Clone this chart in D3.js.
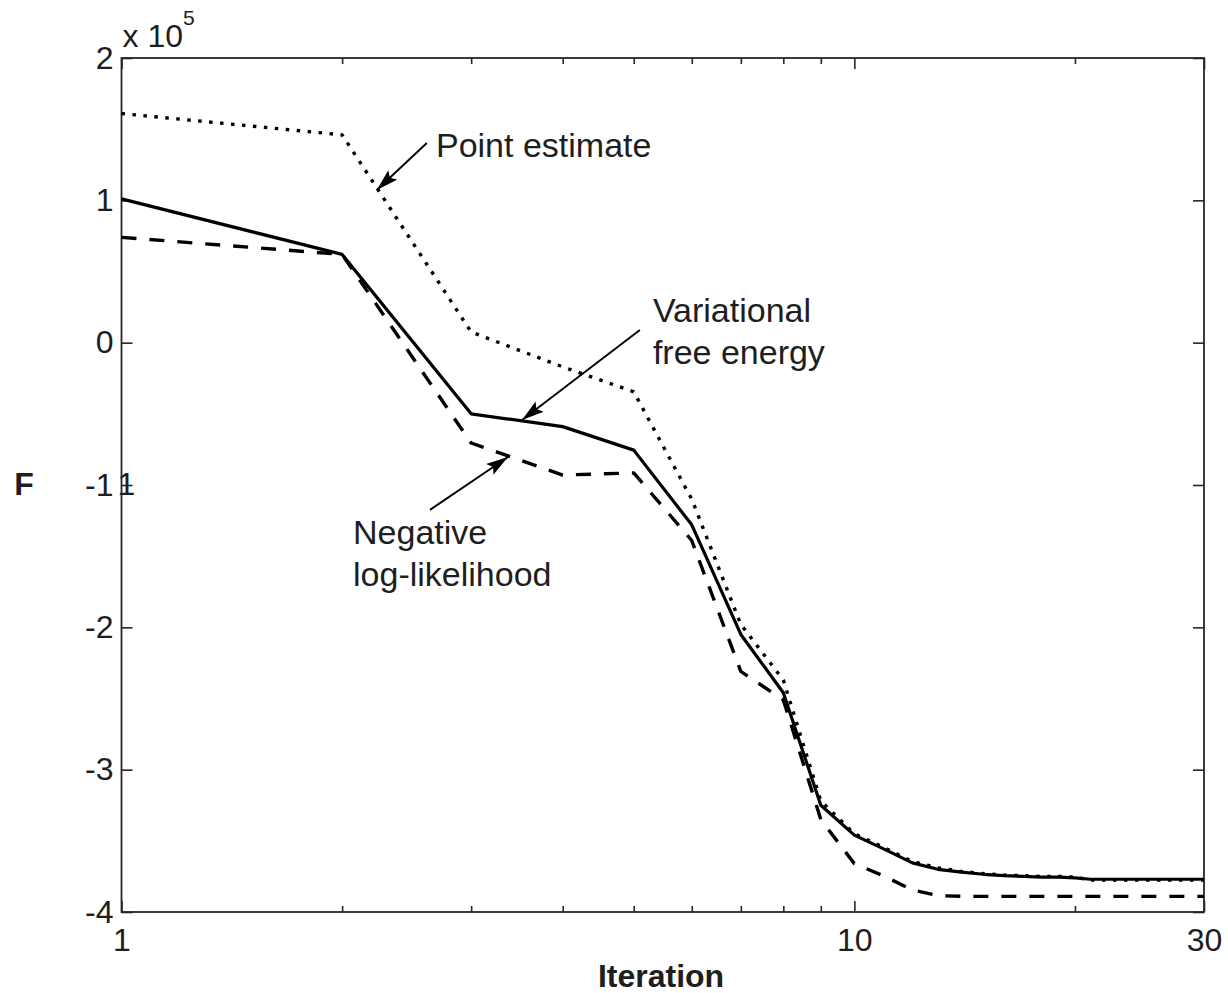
<!DOCTYPE html>
<html>
<head>
<meta charset="utf-8">
<script src="https://cdn.jsdelivr.net/npm/d3@7"></script>
<style>
  html, body { margin: 0; padding: 0; background: #fff; }
  svg { display: block; }
  text { font-family: "Liberation Sans", Arial, Helvetica, sans-serif; fill: #1e1e1e; }
</style>
</head>
<body>
<svg id="chart" width="1228" height="993"></svg>
<script>
// Iteration numbers (log-scaled x axis)
const iterations = [1, 2, 3, 4, 5, 6, 7, 8, 9, 10,
                    11, 12, 13, 14, 15, 16, 17, 18, 19, 20,
                    21, 22, 23, 24, 25, 26, 27, 28, 29, 30];

// Variational free energy F per iteration
const freeEnergy = [101000, 62000, -50000, -59000, -75500, -128000, -205000, -246000, -325000, -346000,
                    -356000, -365500, -370000, -372000, -373500, -374500, -375000, -375500, -375500, -376000,
                    -377000, -377000, -377000, -377000, -377000, -377000, -377000, -377000, -377000, -377000];

// Negative log-likelihood per iteration
const negLogLik = [74000, 62000, -70500, -93000, -91500, -139000, -231000, -251000, -335000, -366000,
                   -375000, -384500, -388500, -389000, -389000, -389000, -389000, -389000, -389000, -389000,
                   -389000, -389000, -389000, -389000, -389000, -389000, -389000, -389000, -389000, -389000];

// Point-estimate objective per iteration
const pointEstimate = [161000, 146000, 7500, -17000, -34500, -110000, -198000, -237000, -322000, -345000,
                       -355000, -364500, -369000, -371500, -373000, -374000, -374500, -375000, -375000, -375500,
                       -377500, -377500, -377500, -377500, -377500, -377500, -377500, -377500, -377500, -377500];

// Axis ticks
const xMajorTicks = [1, 10, 30];
const xMinorTicks = [2, 3, 4, 5, 6, 7, 8, 9, 20];
const yTicks = [-400000, -300000, -200000, -100000, 0, 100000, 200000];
const yExponent = 5;

// Annotations: text anchor and arrow (tail -> tip) in data coordinates
const annotations = [
  { lines: ["Point estimate"], text: [2.686, 130500], tail: [2.61, 140300], tip: [2.23, 107300] },
  { lines: ["Variational", "free energy"], text: [5.31, 14500], tail: [5.097, 8900], tip: [3.52, -54300] },
  { lines: ["Negative", "log-likelihood"], text: [2.07, -141400], tail: [2.636, -117500], tip: [3.368, -80300] }
];

const svg = d3.select("#chart");
svg.append("rect").attr("width", 1228).attr("height", 993).attr("fill", "#fff");

const plotLeft = 121.5, plotRight = 1204, plotTop = 58, plotBottom = 912;

const x = d3.scaleLog().domain([1, 30]).range([plotLeft, plotRight]);
const y = d3.scaleLinear().domain([-400000, 200000]).range([plotBottom, plotTop]);

const axisColor = "#262626";
const fmtY = d => String(d / Math.pow(10, yExponent));

function styleAxis(g) {
  g.select(".domain").remove();
  g.selectAll(".tick line").attr("stroke", axisColor).attr("stroke-width", 1.6);
  g.selectAll(".tick text").attr("fill", "#1e1e1e").attr("font-size", 32)
    .attr("font-family", '"Liberation Sans", Arial, sans-serif');
}

// Bottom axis: major ticks with labels, minor ticks without
svg.append("g").attr("transform", `translate(0,${plotBottom})`)
  .call(d3.axisBottom(x).tickValues(xMajorTicks).tickSizeInner(-11).tickSizeOuter(0)
        .tickPadding(16).tickFormat(d3.format("d")))
  .call(styleAxis);
svg.append("g").attr("transform", `translate(0,${plotBottom})`)
  .call(d3.axisBottom(x).tickValues(xMinorTicks).tickSizeInner(-6).tickSizeOuter(0).tickFormat(""))
  .call(styleAxis);

// Top axis ticks
svg.append("g").attr("transform", `translate(0,${plotTop})`)
  .call(d3.axisTop(x).tickValues(xMajorTicks).tickSizeInner(-11).tickSizeOuter(0).tickFormat(""))
  .call(styleAxis);
svg.append("g").attr("transform", `translate(0,${plotTop})`)
  .call(d3.axisTop(x).tickValues(xMinorTicks).tickSizeInner(-6).tickSizeOuter(0).tickFormat(""))
  .call(styleAxis);

// Left axis with labels, right axis ticks only
svg.append("g").attr("transform", `translate(${plotLeft},0)`)
  .call(d3.axisLeft(y).tickValues(yTicks).tickSizeInner(-11).tickSizeOuter(0)
        .tickPadding(8).tickFormat(fmtY))
  .call(styleAxis);
svg.append("g").attr("transform", `translate(${plotRight},0)`)
  .call(d3.axisRight(y).tickValues(yTicks).tickSizeInner(-11).tickSizeOuter(0).tickFormat(""))
  .call(styleAxis);

// Stray glyph printed over the -1 tick
svg.append("text").attr("x", plotLeft + 5).attr("y", y(-100000)).attr("dy", "0.32em")
  .attr("text-anchor", "middle").attr("font-size", 32).text("1");

// Frame
svg.append("rect").attr("x", plotLeft).attr("y", plotTop)
  .attr("width", plotRight - plotLeft).attr("height", plotBottom - plotTop)
  .attr("fill", "none").attr("stroke", axisColor).attr("stroke-width", 1.8);

// Exponent label above the y axis
const expLabel = svg.append("text").attr("x", plotLeft + 1).attr("y", 47).attr("font-size", 32);
expLabel.append("tspan").text("x 10");
expLabel.append("tspan").attr("font-size", 21).attr("dy", -22).text(String(yExponent));

// Axis titles
svg.append("text").attr("x", 24).attr("y", 495).attr("text-anchor", "middle")
  .attr("font-size", 32).attr("font-weight", "bold").text("F");
svg.append("text").attr("x", 661).attr("y", 987).attr("text-anchor", "middle")
  .attr("font-size", 32).attr("font-weight", "bold").text("Iteration");

// Data lines
const series = [
  { values: pointEstimate, dash: "3.5,7.5", width: 3.4 },
  { values: negLogLik, dash: "15,13", width: 3.4 },
  { values: freeEnergy, dash: null, width: 3.2 }
];

const line = d3.line().x(d => x(d[0])).y(d => y(d[1]));
const plot = svg.append("g");
series.forEach(s => {
  plot.append("path")
    .datum(iterations.map((it, i) => [it, s.values[i]]))
    .attr("d", line)
    .attr("fill", "none")
    .attr("stroke", "#000")
    .attr("stroke-width", s.width)
    .attr("stroke-linejoin", "round")
    .attr("stroke-dasharray", s.dash);
});

// Arrowhead marker
svg.append("defs").append("marker")
  .attr("id", "head")
  .attr("viewBox", "0 -7 22 14")
  .attr("refX", 22).attr("refY", 0)
  .attr("markerUnits", "userSpaceOnUse")
  .attr("markerWidth", 22).attr("markerHeight", 14)
  .attr("orient", "auto")
  .append("path").attr("d", "M0,-6.5L22,0L0,6.5L4,0Z").attr("fill", "#000");

// Annotations
annotations.forEach(a => {
  svg.append("line")
    .attr("x1", x(a.tail[0])).attr("y1", y(a.tail[1]))
    .attr("x2", x(a.tip[0])).attr("y2", y(a.tip[1]))
    .attr("stroke", "#000").attr("stroke-width", 1.9)
    .attr("marker-end", "url(#head)");
  const t = svg.append("text").attr("x", x(a.text[0])).attr("y", y(a.text[1])).attr("font-size", 34);
  a.lines.forEach((ln, i) => {
    t.append("tspan").attr("x", x(a.text[0])).attr("dy", i === 0 ? 0 : 42).text(ln);
  });
});
</script>
</body>
</html>
